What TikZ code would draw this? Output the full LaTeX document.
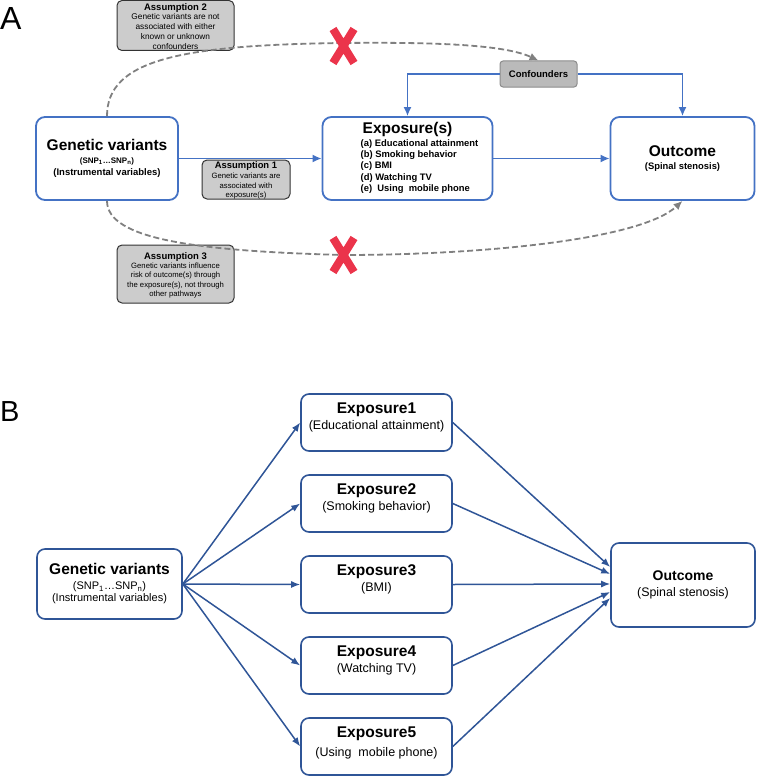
\documentclass[tikz,border=0pt]{standalone}
\usepackage{fontspec}
\setmainfont{Liberation Sans}
\usepackage{tikz}
\usetikzlibrary{arrows.meta}

\definecolor{boxBlue}{RGB}{68,114,196}
\definecolor{boxBlueDark}{RGB}{47,85,151}
\definecolor{assumeGray}{RGB}{204,204,204}
\definecolor{confGray}{RGB}{186,186,186}
\definecolor{dashGray}{RGB}{128,128,128}
\definecolor{crossRed}{RGB}{235,52,75}

\newcommand{\fsize}[2]{\fontsize{#1}{#2}\selectfont}
\newcommand{\topbox}[3]{\parbox[c][#2][t]{#1}{\centering #3}}

\begin{document}
\begin{tikzpicture}[x=1pt,y=-1pt]
		\useasboundingbox (0,0) rectangle (756,776);
		\begin{scope}
			[
				styleBoxA/.style={draw=boxBlue, line width=1.8pt, rounded corners=9pt, fill=white, align=center},
				styleBoxB/.style={draw=boxBlueDark, line width=1.6pt, rounded corners=8pt, fill=white, align=center},
				styleExpB/.style={draw=boxBlueDark, line width=1.6pt, rounded corners=8pt, fill=white, inner sep=0pt},
				styleAssume/.style={draw=black!80, line width=1pt, fill=assumeGray, rounded corners=5pt, inner sep=0pt},
				styleConf/.style={draw=black!45, line width=1pt, fill=confGray, rounded corners=3pt,
					minimum width=77, minimum height=26, font=\fsize{9.5}{11}\bfseries},
				styleLetter/.style={anchor=base west, inner sep=0pt},
			]
			% panel A
			\node(lblA)[styleLetter, font=\fsize{32}{36}] at (0,30) {A};
			\node(asm2)[styleAssume] at (175.5,25.5) {\topbox{117pt}{50pt}{\fsize{8.3}{9.7}\rule{0pt}{10pt}{\bfseries\fsize{9.5}{11}Assumption 2}\\[-0.3pt]
				Genetic variants are not\\associated with either\\known or unknown\\confounders}};
			\node(gvA)[styleBoxA, minimum width=142, minimum height=83, font=\fsize{9.5}{12}\bfseries] at (107,158.5)
				{{\fsize{15.5}{17}Genetic variants}\\[0.5pt]{\fsize{8}{10}(SNP\textsubscript{1}\ldots SNP\textsubscript{n})}\\(Instrumental variables)};
			\node(asm1)[styleAssume] at (246,179.5) {\topbox{88pt}{39pt}{\fsize{7.7}{9.5}\rule{0pt}{8.5pt}{\bfseries\fsize{9.4}{11}Assumption 1}\\[0.5pt]
				Genetic variants are\\associated with\\exposure(s)}};
			\node(asm3)[styleAssume] at (175.5,274) {\topbox{117pt}{58pt}{\fsize{7.7}{9.4}\rule{0pt}{14.5pt}{\bfseries\fsize{9.5}{11}Assumption 3}\\[-0.4pt]
				Genetic variants influence\\risk of outcome(s) through\\the exposure(s), not through\\other pathways}};
			\node(expA)[styleBoxA, minimum width=170, minimum height=83, font=\fsize{9.4}{11.3}\bfseries] at (407.5,158.5)
				{{\fsize{15.5}{17}Exposure(s)}\\[1.7pt]\hspace*{24pt}\begin{tabular}[t]{@{}l@{}}(a) Educational attainment\\(b) Smoking behavior\\(c) BMI\\(d) Watching TV\\(e)\ \ Using\ \ mobile phone\end{tabular}};
			\node(conf)[styleConf] at (538.5,74) {Confounders};
			\node(outA)[styleBoxA, minimum width=144, minimum height=83, font=\fsize{9.4}{13}\bfseries] at (682.5,158.5)
				{{\fsize{15.5}{17}Outcome}\\(Spinal stenosis)};

			% panel B
			\node(lblB)[styleLetter, font=\fsize{29}{33}] at (0,421) {B};
			\node(gvB)[styleBoxB, minimum width=145, minimum height=70, font=\fsize{11}{12.5}] at (109.5,584)
				{{\fsize{15.5}{17}\bfseries Genetic variants}\\[2pt](SNP\textsubscript{1}\ldots SNP\textsubscript{n})\\(Instrumental variables)};
			\node(exp1)[styleExpB] at (376.5,422.5) {\topbox{151pt}{57pt}{\fsize{12.5}{16}\rule{0pt}{19.5pt}{\bfseries\fsize{15.5}{17}Exposure1}\\(Educational attainment)}};
			\node(exp2)[styleExpB] at (376.5,503.5) {\topbox{151pt}{57pt}{\fsize{12.5}{16}\rule{0pt}{19.5pt}{\bfseries\fsize{15.5}{17}Exposure2}\\(Smoking behavior)}};
			\node(exp3)[styleExpB] at (376.5,584.5) {\topbox{151pt}{57pt}{\fsize{12.5}{16}\rule{0pt}{19.5pt}{\bfseries\fsize{15.5}{17}Exposure3}\\(BMI)}};
			\node(exp4)[styleExpB] at (376.5,665.5) {\topbox{151pt}{57pt}{\fsize{12.5}{16}\rule{0pt}{19.5pt}{\bfseries\fsize{15.5}{17}Exposure4}\\(Watching TV)}};
			\node(exp5)[styleExpB] at (376.5,746.5) {\topbox{151pt}{57pt}{\fsize{12.5}{16}\rule{0pt}{19.5pt}{\bfseries\fsize{15.5}{17}Exposure5}\\[3pt](Using\ \ mobile phone)}};
			\node(outB)[styleBoxB, minimum width=144, minimum height=84, font=\fsize{12.4}{15.5}] at (683,585)
				{{\fsize{14}{16}\bfseries Outcome}\\(Spinal stenosis)};
		\end{scope}

		\begin{scope}
			[
				conn/.style={draw=boxBlue, line width=1.6pt, -{Latex[length=9pt,width=8pt]}},
				connB/.style={draw=boxBlueDark, line width=1.5pt, -{Latex[length=9pt,width=7pt]}},
				assume/.style={draw=dashGray, line width=1.8pt, dash pattern=on 6pt off 3pt, -{Latex[length=9pt,width=8pt]}},
				cross/.style={draw=crossRed, line width=8pt},
				elbow/.style={to path={-| (\tikztotarget)}},
			]
			\path
			(gvA) edge[conn]						(expA)
			(expA) edge[conn]						(outA)
			(conf.west) edge[conn, elbow]			(expA.north)
			(conf.east) edge[conn, elbow]			(outA.north);

			\draw[assume] (gvA.north) .. controls (107,60) and (180,45) .. (343,43)
				.. controls (440,42) and (505,45) .. (conf.north);
			\draw[assume] (gvA.south) .. controls (107,240) and (200,251) .. (343,255)
				.. controls (480,255) and (640,240) .. (outA.south);
			\foreach \cy in {46,255}
				\draw[cross] (333,\cy-17) -- (354,\cy+17) (354,\cy-17) -- (333,\cy+17);

			\path
			(gvB.east) edge[connB]					(exp1.west)
			(gvB.east) edge[connB]					(exp2.west)
			(gvB.east) edge[connB]					(exp3.west)
			(gvB.east) edge[connB]					(exp4.west)
			(gvB.east) edge[connB]					(exp5.west)
			(exp1.east) edge[connB]				([yshift=18pt]outB.west)
			(exp2.east) edge[connB]				([yshift=11pt]outB.west)
			(exp3.east) edge[connB]				([yshift=1pt]outB.west)
			(exp4.east) edge[connB]				([yshift=-7pt]outB.west)
			(exp5.east) edge[connB]				([yshift=-13pt]outB.west);
		\end{scope}
	\end{tikzpicture}
\end{document}
